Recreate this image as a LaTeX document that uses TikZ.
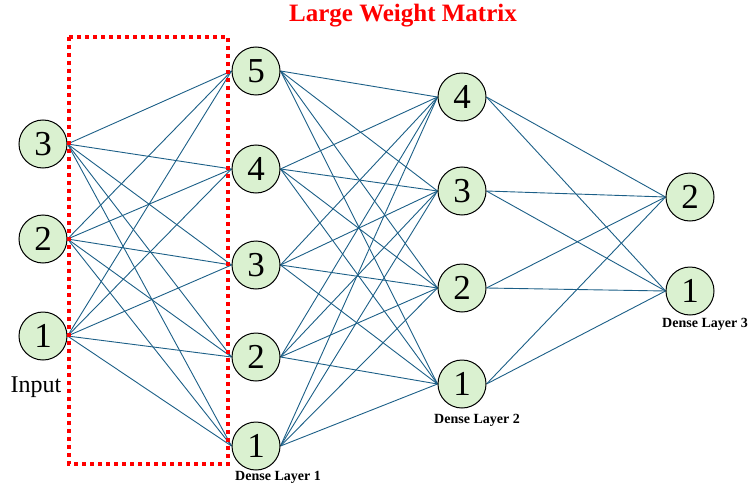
\documentclass[tikz,border=0pt]{standalone}
\usepackage{fontspec}
\setmainfont{Liberation Serif}
\usetikzlibrary{backgrounds}
\begin{document}
\begin{tikzpicture}[x=1pt,y=-1pt,
  neuron/.style={circle,draw=black,line width=1pt,fill=nodegreen,minimum size=48pt,inner sep=0pt,font=\fontsize{35}{35}\selectfont},
  wire/.style={draw=edgeblue,line width=0.9pt},
  layerlabel/.style={font=\bfseries\fontsize{14}{14}\selectfont,inner sep=0pt}]
\definecolor{nodegreen}{RGB}{218,241,208}
\definecolor{edgeblue}{RGB}{28,95,135}
\definecolor{titlered}{RGB}{255,0,0}
\useasboundingbox (0,0) rectangle (751,484);
% input
\node[neuron] (i3) at (43,144) {3};
\node[neuron] (i2) at (43,239) {2};
\node[neuron] (i1) at (43,336) {1};
% dense 1
\node[neuron] (a5) at (256,71) {5};
\node[neuron] (a4) at (256,169) {4};
\node[neuron] (a3) at (256,265) {3};
\node[neuron] (a2) at (256,357) {2};
\node[neuron] (a1) at (256,446) {1};
% dense 2
\node[neuron] (b4) at (462,97) {4};
\node[neuron] (b3) at (462,191) {3};
\node[neuron] (b2) at (462,288) {2};
\node[neuron] (b1) at (462,384) {1};
% dense 3
\node[neuron] (c2) at (690,197) {2};
\node[neuron] (c1) at (690,291) {1};
% connections
\begin{scope}[on background layer]
\foreach \s in {i1,i2,i3}{\foreach \t in {a1,a2,a3,a4,a5}{\path[wire] (\s.east) -- (\t.west);}}
\foreach \s in {a1,a2,a3,a4,a5}{\foreach \t in {b1,b2,b3,b4}{\path[wire] (\s.east) -- (\t.west);}}
\foreach \s in {b1,b2,b3,b4}{\foreach \t in {c1,c2}{\path[wire] (\s.east) -- (\t.west);}}
\end{scope}
% red dotted box
\draw[titlered,line width=4pt,dash pattern=on 4pt off 4pt] (69,37) rectangle (228,464);
% labels
\node[font=\fontsize{24}{24}\selectfont,inner sep=0pt] (inlab) at (36,387) {Input};
\node[layerlabel] (l1) at (278,477) {Dense Layer 1};
\node[layerlabel] (l2) at (477,420) {Dense Layer 2};
\node[layerlabel] (l3) at (705,324) {Dense Layer 3};
\node[font=\bfseries\fontsize{25}{25}\selectfont,text=titlered,inner sep=0pt] (title) at (403,16) {Large Weight Matrix};
\end{tikzpicture}
\end{document}
